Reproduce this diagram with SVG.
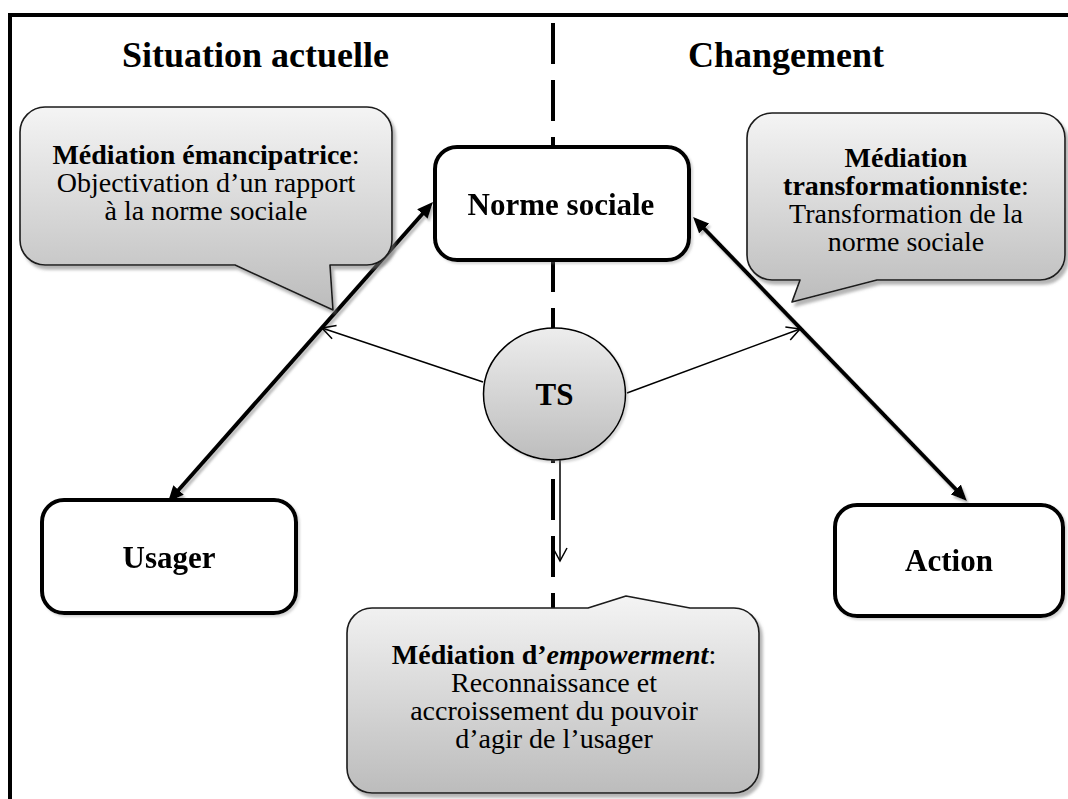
<svg xmlns="http://www.w3.org/2000/svg" width="1068" height="799" viewBox="0 0 1068 799">
  <defs>
    <style>
      .serif { font-family: "Liberation Serif", "Times New Roman", serif; fill: #000; }
      .head { font-size: 36px; font-weight: bold; }
      .node-label { font-size: 31px; font-weight: bold; text-anchor: middle; }
      .note { font-size: 28px; text-anchor: middle; }
      .b { font-weight: bold; }
      .bi { font-weight: bold; font-style: italic; }
      .box { fill: #fff; stroke: #000; stroke-width: 4; }
      .callout { fill: url(#calloutFill); stroke: #1a1a1a; stroke-width: 1.6; stroke-linejoin: round; }
      .thick { stroke: #000; stroke-width: 4; fill: none; }
      .thin { stroke: #000; stroke-width: 1.5; fill: none; }
    </style>
    <linearGradient id="calloutFill" x1="0" y1="0" x2="0" y2="1">
      <stop offset="0" stop-color="#f4f4f4"/>
      <stop offset="1" stop-color="#bcbcbc"/>
    </linearGradient>
    <linearGradient id="tsFill" x1="0" y1="0" x2="0" y2="1">
      <stop offset="0" stop-color="#ededed"/>
      <stop offset="1" stop-color="#bdbdbd"/>
    </linearGradient>
    <filter id="dropSoft" x="-10%" y="-10%" width="130%" height="130%">
      <feDropShadow dx="3" dy="4" stdDeviation="1.5" flood-color="#777" flood-opacity="0.55"/>
    </filter>
    <filter id="dropLine" x="-10%" y="-20%" width="130%" height="160%">
      <feDropShadow dx="2" dy="3" stdDeviation="0.8" flood-color="#888" flood-opacity="0.55"/>
    </filter>
    <filter id="dropFaint" x="-10%" y="-10%" width="130%" height="130%">
      <feDropShadow dx="2" dy="2" stdDeviation="1" flood-color="#888" flood-opacity="0.35"/>
    </filter>
    <!-- solid head for the heavy relation arrows -->
    <marker id="headSolid" viewBox="0 0 16 14" markerWidth="16" markerHeight="14" refX="8" refY="7" markerUnits="userSpaceOnUse" orient="auto-start-reverse">
      <path d="M0,0 L16,7 L0,14 Z" fill="#000"/>
    </marker>
    <!-- open chevron for the top double arrow -->
    <marker id="headChevron" viewBox="-2 -2 22 26" markerWidth="22" markerHeight="26" refX="16" refY="11" markerUnits="userSpaceOnUse" orient="auto-start-reverse">
      <path d="M1,1 L16,11 L1,21" fill="none" stroke="#000" stroke-width="4" stroke-linejoin="miter"/>
    </marker>
    <!-- open head for the thin TS arrows -->
    <marker id="headOpen" viewBox="-1 -1 16 16" markerWidth="16" markerHeight="16" refX="13" refY="7" markerUnits="userSpaceOnUse" orient="auto-start-reverse">
      <path d="M0,0 L13,7 L0,14" fill="none" stroke="#000" stroke-width="1.5"/>
    </marker>
  </defs>

  <rect width="1068" height="799" fill="#fff"/>

  <!-- frame -->
  <path d="M10,799 V15 H1068" fill="none" stroke="#000" stroke-width="4"/>

  <!-- column headings -->
  <text class="serif head" x="122" y="67">Situation actuelle</text>
  <text class="serif head" x="688" y="67">Changement</text>

  <!-- divider between current situation and change -->
  <line x1="553" y1="23" x2="553" y2="608" stroke="#000" stroke-width="4" stroke-dasharray="41 16"/>

  <g id="connectors">
    <line class="thick" x1="462" y1="53" x2="643" y2="53" marker-start="url(#headChevron)" marker-end="url(#headChevron)" filter="url(#dropLine)"/>
    <line class="thick" x1="173.3" y1="496" x2="427.7" y2="208" marker-start="url(#headSolid)" marker-end="url(#headSolid)" filter="url(#dropLine)"/>
    <line class="thick" x1="698.6" y1="222.8" x2="961.4" y2="495.2" marker-start="url(#headSolid)" marker-end="url(#headSolid)" filter="url(#dropLine)"/>
    <line class="thick" x1="308" y1="563" x2="826" y2="563" marker-start="url(#headSolid)" marker-end="url(#headSolid)" filter="url(#dropLine)"/>
    <line class="thin" x1="483" y1="382" x2="322" y2="328" marker-end="url(#headOpen)"/>
    <line class="thin" x1="627" y1="393" x2="800" y2="329" marker-end="url(#headOpen)"/>
    <line class="thin" x1="560" y1="460" x2="560" y2="561" marker-end="url(#headOpen)"/>
  </g>

  <g id="norme-sociale" filter="url(#dropFaint)">
    <rect class="box" x="435" y="147" width="254" height="113" rx="22"/>
    <text class="serif node-label" x="561" y="215">Norme sociale</text>
  </g>

  <g id="usager" filter="url(#dropFaint)">
    <rect class="box" x="42" y="500" width="254" height="113" rx="22"/>
    <text class="serif node-label" x="169" y="568">Usager</text>
  </g>

  <g id="action" filter="url(#dropFaint)">
    <rect class="box" x="835" y="505" width="228" height="111" rx="22"/>
    <text class="serif node-label" x="949" y="571">Action</text>
  </g>

  <g id="ts">
    <ellipse cx="554.5" cy="394" rx="71" ry="66" fill="url(#tsFill)" stroke="#000" stroke-width="1.5" filter="url(#dropFaint)"/>
    <text class="serif node-label" x="554.5" y="405">TS</text>
  </g>

  <g id="mediation-emancipatrice">
    <path class="callout" filter="url(#dropSoft)" d="M45,107 H367 A25,25 0 0 1 392,132 V240 A25,25 0 0 1 367,265 H330 L333,310 L235,265 H45 A25,25 0 0 1 20,240 V132 A25,25 0 0 1 45,107 Z"/>
    <text class="serif note" x="206" y="164"><tspan class="b">Médiation émancipatrice</tspan>:</text>
    <text class="serif note" x="206" y="192">Objectivation d’un rapport</text>
    <text class="serif note" x="206" y="220">à la norme sociale</text>
  </g>

  <g id="mediation-transformationniste">
    <path class="callout" filter="url(#dropSoft)" d="M772,113 H1040 A25,25 0 0 1 1065,138 V255 A25,25 0 0 1 1040,280 H877 L792,302 L800,280 H772 A25,25 0 0 1 747,255 V138 A25,25 0 0 1 772,113 Z"/>
    <text class="serif note" x="906" y="167"><tspan class="b">Médiation</tspan></text>
    <text class="serif note" x="906" y="195"><tspan class="b">transformationniste</tspan>:</text>
    <text class="serif note" x="906" y="223">Transformation de la</text>
    <text class="serif note" x="906" y="251">norme sociale</text>
  </g>

  <g id="mediation-empowerment">
    <path class="callout" filter="url(#dropSoft)" d="M372,608 H588 L626,596 L690,608 H734 A25,25 0 0 1 759,633 V768 A25,25 0 0 1 734,793 H372 A25,25 0 0 1 347,768 V633 A25,25 0 0 1 372,608 Z"/>
    <text class="serif note" x="554" y="664"><tspan class="b">Médiation d’</tspan><tspan class="bi">empowerment</tspan>:</text>
    <text class="serif note" x="554" y="692">Reconnaissance et</text>
    <text class="serif note" x="554" y="720">accroissement du pouvoir</text>
    <text class="serif note" x="554" y="748">d’agir de l’usager</text>
  </g>
</svg>
